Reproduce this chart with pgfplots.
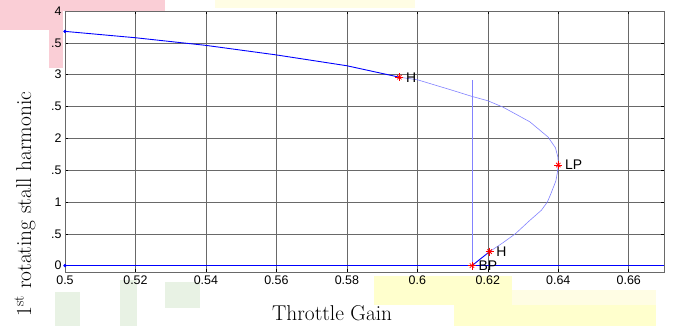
\documentclass[border=0pt]{standalone}
\usepackage{fontspec}
\newfontfamily\arial{Liberation Sans}
\usepackage{pgfplots}
\pgfplotsset{compat=1.18}
\definecolor{lightcurve}{RGB}{130,130,255}
\definecolor{gridgray}{RGB}{105,105,105}
\definecolor{wmpink}{RGB}{250,206,214}
\definecolor{wmyellow}{RGB}{255,255,205}
\definecolor{wmyellowlight}{RGB}{255,253,228}
\definecolor{wmgreen}{RGB}{232,242,228}
\begin{document}
\begin{tikzpicture}[x=1bp,y=1bp]
% background watermark blocks (outside the plot area)
\fill[wmpink] (-65,261) rectangle (100,272);
\fill[wmpink] (-65,204) rectangle (-2,272);
\fill[white] (-65,204) rectangle (-16,242);
\fill[wmyellowlight] (150,264) rectangle (350,272);
\fill[wmyellow] (309,-33) rectangle (447,-4);
\fill[wmyellowlight] (447,-33) rectangle (591,-18);
\fill[wmyellow] (389,-54) rectangle (591,-33);
\fill[wmgreen] (-10,-54) rectangle (15,-20);
\fill[wmgreen] (55,-54) rectangle (72,-8);
\fill[wmgreen] (100,-36) rectangle (135,-10);
\begin{axis}[
  at={(0,0)}, anchor=south west,
  scale only axis, width=599bp, height=261bp,
  axis background/.style={fill=white},
  xmin=0.5, xmax=0.67, ymin=-0.1, ymax=4,
  xtick={0.5,0.52,0.54,0.56,0.58,0.6,0.62,0.64,0.66},
  xticklabels={0.5,0.52,0.54,0.56,0.58,0.6,0.62,0.64,0.66},
  ytick={0,0.5,1,1.5,2,2.5,3,3.5,4},
  yticklabels={0,.5,1,.5,2,.5,3,.5,4},
  grid=major, major grid style={gridgray, line width=0.6pt},
  axis line style={gridgray, line width=0.8pt},
  tick style={black, line width=0.6pt}, tick align=inside, major tick length=3bp,
  ticklabel style={font=\arial\fontsize{12.5}{14}\selectfont},
  xlabel={Throttle Gain},
  ylabel={1\textsuperscript{st} rotating stall harmonic},
  xlabel style={at={(axis description cs:0.446,-0.157)}, anchor=center, font=\fontsize{21.5}{24}\selectfont},
  ylabel style={at={(axis description cs:-0.0668,0.26)}, anchor=center, font=\fontsize{21.5}{24}\selectfont},
]
\addplot[blue, line width=0.9pt] coordinates {(0.5,0) (0.67,0)};
\addplot[blue, line width=0.9pt] coordinates {
 (0.5,3.68) (0.52,3.58) (0.54,3.46) (0.56,3.31) (0.58,3.14) (0.5949,2.96)};
\addplot[lightcurve, line width=0.6pt] coordinates {
 (0.5949,2.96) (0.6,2.92) (0.6096,2.76) (0.6154,2.66) (0.62,2.59) (0.6243,2.49)
 (0.6319,2.26) (0.6371,2.02) (0.6392,1.85) (0.6399,1.70) (0.640,1.58)
 (0.6397,1.45) (0.6393,1.33) (0.6379,1.13) (0.6369,1.0) (0.6352,0.87)
 (0.6319,0.71) (0.6278,0.5) (0.6243,0.36) (0.6205,0.22)};
\addplot[lightcurve, line width=0.6pt] coordinates {(0.6155,0) (0.6155,2.91)};
\addplot[blue, line width=0.9pt] coordinates {(0.6205,0.22) (0.6155,0)};
\addplot[blue, only marks, mark=*, mark size=1.4bp] coordinates {(0.5,3.68) (0.5,0)};
\addplot[red, only marks, mark=+, mark size=4bp, line width=0.8pt] coordinates {
 (0.5949,2.96) (0.640,1.58) (0.6205,0.22) (0.6155,0)};
\addplot[red, only marks, mark=x, mark size=3.1bp, line width=0.8pt] coordinates {
 (0.5949,2.96) (0.640,1.58) (0.6205,0.22) (0.6155,0)};
\addplot[draw=none, mark=none, nodes near coords, point meta=explicit symbolic,
  every node near coord/.append style={anchor=west, xshift=6.5bp, inner sep=0pt, black, font=\arial\fontsize{14}{16}\selectfont}]
  table[meta=lab, row sep=\\] {x y lab\\ 0.5949 2.96 H\\ 0.640 1.58 LP\\ 0.6205 0.22 H\\ 0.6155 0 BP\\};
\end{axis}
\pgfresetboundingbox
\path[use as bounding box] (-65,-54) rectangle (610,272);
\end{tikzpicture}
\end{document}
